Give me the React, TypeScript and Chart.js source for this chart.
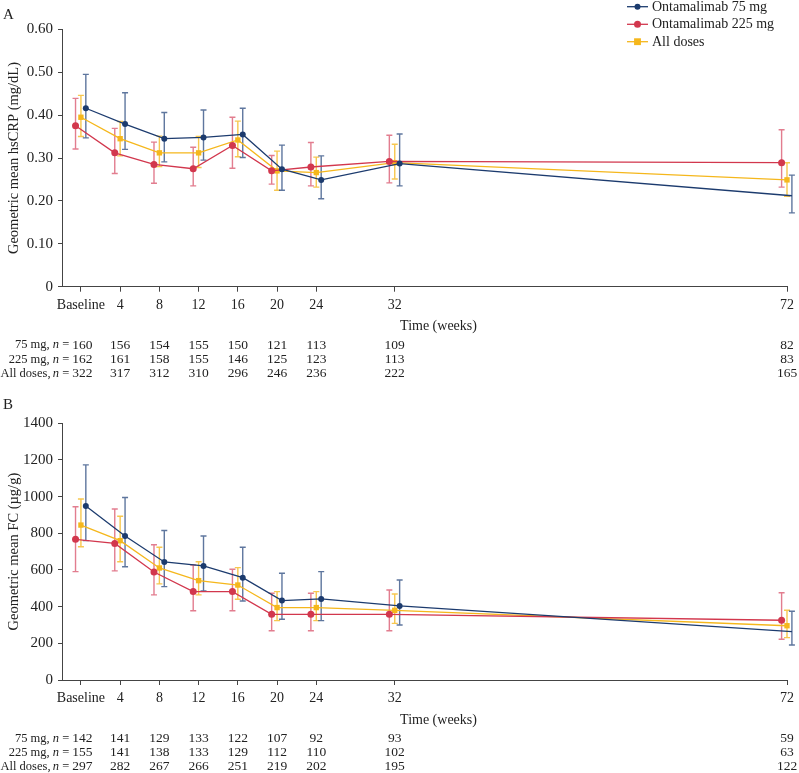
import React, { useEffect, useRef } from 'react';
import { Chart, registerables } from 'chart.js';

Chart.register(...registerables);

const FONT = '"Liberation Serif", "Times New Roman", serif';

// ---- data ----
const weeks = [0, 4, 8, 12, 16, 20, 24, 32, 72];
const seriesNames = ['Ontamalimab 75 mg', 'Ontamalimab 225 mg', 'All doses'];
const rowLabels = ['75 mg, ', '225 mg, ', 'All doses, '];

// Panel A: hsCRP (mg/dL)
const crp75 = [0.416, 0.379, 0.345, 0.348, 0.355, 0.274, 0.249, 0.287, 0.212];
const crp75Lo = [0.347, 0.32, 0.291, 0.295, 0.301, 0.225, 0.205, 0.235, 0.172];
const crp75Hi = [0.495, 0.452, 0.406, 0.412, 0.416, 0.33, 0.305, 0.356, 0.26];
const crp225 = [0.375, 0.312, 0.285, 0.275, 0.329, 0.27, 0.279, 0.292, 0.289];
const crp225Lo = [0.321, 0.264, 0.241, 0.235, 0.276, 0.239, 0.235, 0.242, 0.232];
const crp225Hi = [0.439, 0.369, 0.337, 0.325, 0.395, 0.306, 0.336, 0.353, 0.366];
const crpAll = [0.395, 0.345, 0.312, 0.312, 0.342, 0.27, 0.266, 0.289, 0.249];
const crpAllLo = [0.35, 0.305, 0.28, 0.278, 0.303, 0.225, 0.232, 0.251, 0.211];
const crpAllHi = [0.446, 0.385, 0.351, 0.35, 0.386, 0.316, 0.302, 0.332, 0.289];
const nA75 = [160, 156, 154, 155, 150, 121, 113, 109, 82];
const nA225 = [162, 161, 158, 155, 146, 125, 123, 113, 83];
const nAAll = [322, 317, 312, 310, 296, 246, 236, 222, 165];

// Panel B: FC (µg/g)
const fc75 = [949, 785, 644, 622, 558, 433, 442, 404, 264];
const fc75Lo = [760, 618, 509, 485, 431, 331, 324, 300, 191];
const fc75Hi = [1173, 995, 815, 785, 724, 582, 591, 545, 375];
const fc225 = [767, 745, 589, 482, 482, 358, 358, 358, 326];
const fc225Lo = [591, 595, 464, 378, 378, 269, 269, 269, 222];
const fc225Hi = [945, 933, 738, 627, 604, 473, 473, 491, 476];
const fcAll = [845, 760, 611, 542, 518, 395, 395, 380, 296];
const fcAllLo = [727, 645, 524, 464, 440, 324, 324, 309, 231];
const fcAllHi = [987, 893, 724, 645, 613, 482, 482, 469, 380];
const nB75 = [142, 141, 129, 133, 122, 107, 92, 93, 59];
const nB225 = [155, 141, 138, 133, 129, 112, 110, 102, 63];
const nBAll = [297, 282, 267, 266, 251, 219, 202, 195, 122];

// ---- styles ----
const colors = ['#1c3b6e', '#d2374d', '#f5b71c'];
const barColors = ['rgba(40,72,125,0.75)', 'rgba(214,70,95,0.7)', 'rgba(245,185,35,0.8)'];
const dodge = [0.5, -0.55, 0];
const pointStyles = ['circle', 'circle', 'rect'];
const pointRadii = [3, 3.5, 3.8];

type PanelCfg = {
  letter: string;
  yTitle: string;
  yMax: number;
  yStep: number;
  yFmt: (v: number) => string;
  means: number[][];
  los: number[][];
  his: number[][];
  ns: number[][];
  top: number;
  height: number;
  padTop: number;
  xHeight: number;
  legend: boolean;
};

const panels: PanelCfg[] = [
  {
    letter: 'A',
    yTitle: 'Geometric mean hsCRP (mg/dL)',
    yMax: 0.6,
    yStep: 0.1,
    yFmt: (v) => (v === 0 ? '0' : v.toFixed(2)),
    means: [crp75, crp225, crpAll],
    los: [crp75Lo, crp225Lo, crpAllLo],
    his: [crp75Hi, crp225Hi, crpAllHi],
    ns: [nA75, nA225, nAAll],
    top: 0,
    height: 390,
    padTop: 29.3,
    xHeight: 103.3,
    legend: true,
  },
  {
    letter: 'B',
    yTitle: 'Geometric mean FC (µg/g)',
    yMax: 1400,
    yStep: 200,
    yFmt: (v) => String(Math.round(v)),
    means: [fc75, fc225, fcAll],
    los: [fc75Lo, fc225Lo, fcAllLo],
    his: [fc75Hi, fc225Hi, fcAllHi],
    ns: [nB75, nB225, nBAll],
    top: 390,
    height: 383,
    padTop: 33.3,
    xHeight: 93,
    legend: false,
  },
];

function drawMarker(ctx: CanvasRenderingContext2D, style: string, x: number, y: number, r: number, color: string) {
  ctx.fillStyle = color;
  ctx.beginPath();
  if (style === 'rect') {
    ctx.rect(x - r * 0.9, y - r * 0.9, r * 1.8, r * 1.8);
  } else {
    ctx.arc(x, y, r, 0, Math.PI * 2);
  }
  ctx.fill();
}

function makeChart(canvas: HTMLCanvasElement, p: PanelCfg) {
  const datasets = p.means.map((m, s) => ({
    label: seriesNames[s],
    data: m.map((v, i) => ({ x: weeks[i] + dodge[s], y: v })),
    borderColor: colors[s],
    backgroundColor: colors[s],
    borderWidth: 1.3,
    pointStyle: pointStyles[s],
    pointRadius: pointRadii[s],
    pointBorderWidth: 0,
    pointBackgroundColor: colors[s],
    tension: 0,
    clip: false as any,
  }));

  const errorBars = {
    id: 'errorBars' + p.letter,
    beforeDatasetsDraw(chart: any) {
      const ctx = chart.ctx as CanvasRenderingContext2D;
      const xs = chart.scales.x;
      const ys = chart.scales.y;
      for (let s = p.means.length - 1; s >= 0; s--) {
        ctx.save();
        ctx.strokeStyle = barColors[s];
        ctx.lineWidth = 1.4;
        p.means[s].forEach((_, i) => {
          const x = xs.getPixelForValue(weeks[i] + dodge[s]);
          const y1 = ys.getPixelForValue(p.los[s][i]);
          const y2 = ys.getPixelForValue(p.his[s][i]);
          ctx.beginPath();
          ctx.moveTo(x, y1);
          ctx.lineTo(x, y2);
          ctx.moveTo(x - 3, y1);
          ctx.lineTo(x + 3, y1);
          ctx.moveTo(x - 3, y2);
          ctx.lineTo(x + 3, y2);
          ctx.stroke();
        });
        ctx.restore();
      }
    },
  };

  const extras = {
    id: 'extras' + p.letter,
    afterDraw(chart: any) {
      const ctx = chart.ctx as CanvasRenderingContext2D;
      const xs = chart.scales.x;
      const area = chart.chartArea;
      ctx.save();
      ctx.fillStyle = '#222';
      ctx.textBaseline = 'middle';
      // panel letter
      ctx.font = `15px ${FONT}`;
      ctx.textAlign = 'left';
      ctx.fillText(p.letter, 3, 15.5);
      // x title
      ctx.font = `14px ${FONT}`;
      ctx.textAlign = 'center';
      ctx.fillText('Time (weeks)', 438.5, area.bottom + 40);
      // table
      const rowOff = [58.3, 72.6, 86.7];
      const numFont = `13.5px ${FONT}`;
      const lblFont = `12.5px ${FONT}`;
      p.ns.forEach((row, r) => {
        const y = area.bottom + rowOff[r];
        ctx.font = numFont;
        ctx.textAlign = 'center';
        row.forEach((n, i) => {
          const x = xs.getPixelForValue(weeks[i]) + (i === 0 ? 1.5 : 0);
          ctx.fillText(String(n), x, y);
        });
        const x0 = xs.getPixelForValue(weeks[0]) + 1.5;
        const wNum = ctx.measureText(String(row[0])).width;
        let xr = x0 - wNum / 2;
        ctx.textAlign = 'left';
        ctx.font = lblFont;
        const eq = ' = ';
        const wEq = ctx.measureText(eq).width;
        xr -= wEq;
        ctx.fillText(eq, xr, y);
        ctx.font = `italic 12.5px ${FONT}`;
        const wN = ctx.measureText('n').width;
        xr -= wN;
        ctx.fillText('n', xr, y);
        ctx.font = lblFont;
        const wL = ctx.measureText(rowLabels[r]).width;
        xr -= wL;
        ctx.fillText(rowLabels[r], Math.max(xr, 0.5), y);
      });
      // legend
      if (p.legend) {
        const ly = [6.7, 24.3, 41.7];
        ctx.font = `14px ${FONT}`;
        seriesNames.forEach((name, s) => {
          ctx.strokeStyle = colors[s];
          ctx.lineWidth = 1.3;
          ctx.beginPath();
          ctx.moveTo(627, ly[s]);
          ctx.lineTo(648, ly[s]);
          ctx.stroke();
          drawMarker(ctx, pointStyles[s], 637.5, ly[s], pointRadii[s], colors[s]);
          ctx.fillStyle = '#222';
          ctx.textAlign = 'left';
          ctx.fillText(name, 652, ly[s] + 0.5);
        });
      }
      ctx.restore();
    },
  };

  return new Chart(canvas, {
    type: 'line',
    data: { datasets: datasets as any },
    options: {
      animation: false,
      responsive: false,
      devicePixelRatio: 1,
      layout: { padding: { top: p.padTop, right: 10, left: 0, bottom: 0 } },
      plugins: { legend: { display: false }, tooltip: { enabled: false } },
      scales: {
        x: {
          type: 'linear',
          min: -1.93,
          max: 72,
          afterBuildTicks: (scale: any) => {
            scale.ticks = weeks.map((v) => ({ value: v }));
          },
          afterFit: (scale: any) => {
            scale.height = p.xHeight;
          },
          ticks: {
            autoSkip: false,
            maxRotation: 0,
            padding: 5,
            color: '#222',
            font: { family: FONT, size: 14 },
            callback: (v: any) => (v === 0 ? 'Baseline' : String(v)),
          },
          grid: { drawOnChartArea: false, drawTicks: true, tickLength: 5, color: '#444', lineWidth: 1 },
          border: { display: true, color: '#444', width: 1 },
        },
        y: {
          type: 'linear',
          min: 0,
          max: p.yMax,
          afterFit: (scale: any) => {
            scale.width = 62;
          },
          ticks: {
            stepSize: p.yStep,
            padding: 5,
            color: '#222',
            font: { family: FONT, size: 15 },
            callback: (v: any) => p.yFmt(Number(v)),
          },
          title: {
            display: true,
            text: p.yTitle,
            color: '#222',
            font: { family: FONT, size: 14.5 },
            padding: { top: 5, bottom: 0 },
          },
          grid: { drawOnChartArea: false, drawTicks: true, tickLength: 4, color: '#444', lineWidth: 1 },
          border: { display: true, color: '#444', width: 1 },
        },
      },
    },
    plugins: [errorBars, extras],
  });
}

function Panel({ cfg }: { cfg: PanelCfg }) {
  const ref = useRef<HTMLCanvasElement | null>(null);
  useEffect(() => {
    if (!ref.current) return;
    const chart = makeChart(ref.current, cfg);
    return () => chart.destroy();
  }, [cfg]);
  return (
    <canvas
      ref={ref}
      width={799}
      height={cfg.height}
      style={{ position: 'absolute', left: 0, top: cfg.top, width: 799, height: cfg.height, display: 'block' }}
    />
  );
}

export default function App() {
  return (
    <div style={{ position: 'absolute', left: 0, top: 0, width: 799, height: 773, background: '#fff', overflow: 'hidden' }}>
      {panels.map((p) => (
        <Panel key={p.letter} cfg={p} />
      ))}
    </div>
  );
}
